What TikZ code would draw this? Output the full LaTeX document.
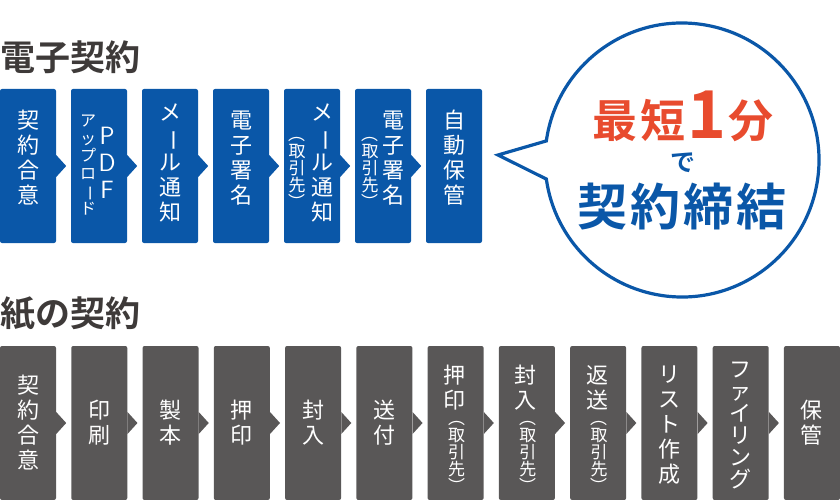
\documentclass[tikz,border=0pt]{standalone}
\usepackage{fontspec}
\usetikzlibrary{calc}
\newfontfamily\cjk{Noto Sans CJK JP}[BoldFont={Noto Sans CJK JP Bold}]
\definecolor{eblue}{HTML}{0A57A8}
\definecolor{pgray}{HTML}{595757}
\definecolor{tgray}{HTML}{3E3A39}
\definecolor{ered}{HTML}{E84B2E}
\newcommand\VB{\rotatebox[origin=c]{-90}{ー}}
\newcommand\LP{\rotatebox[origin=c]{-90}{（}}
\newcommand\RP{\rotatebox[origin=c]{-90}{）}}
\tikzset{
 stepbox/.style={rectangle,rounded corners=2pt,minimum width=56pt,minimum height=154pt,inner sep=0pt,fill=#1},
 big/.style={white,align=center,inner sep=0pt,font=\cjk\fontsize{22}{25}\selectfont},
 small/.style={white,align=center,inner sep=0pt,font=\cjk\fontsize{17}{17}\selectfont},
 title/.style={anchor=west,tgray,inner sep=0pt,font=\cjk\bfseries\fontsize{35}{36}\selectfont},
}
\newcommand\tip[2]{\fill[#2] ([yshift=11pt]#1.east) -- ++(10pt,-11pt) -- ++(-10pt,-11pt) -- cycle;}
\begin{document}
\begin{tikzpicture}[x=1pt,y=-1pt]
\useasboundingbox (0,0) rectangle (840,500);
\node[title] (t1) at (0,57) {電子契約};
\node[title] (t2) at (0,314) {紙の契約};
% top row
\foreach \i in {0,...,6} {\node[stepbox=eblue] (a\i) at (28+71*\i,166) {};}
\foreach \i in {0,...,5} {\tip{a\i}{eblue}}
\node[big] at (28,158) {契\\約\\合\\意};
\node[big,font=\sffamily\fontsize{25}{27}\selectfont] at (107,163) {P\\D\\F};
\node[small,font=\cjk\fontsize{16}{17.5}\selectfont] at (88,165) {ア\\ッ\\プ\\ロ\\\VB\\ド};
\node[big] at (170,163) {メ\\\VB\\ル\\通\\知};
\node[big] at (241,158) {電\\子\\署\\名};
\node[big] at (322,163) {メ\\\VB\\ル\\通\\知};
\node[small] at (297,168) {\LP\\取\\引\\先\\\RP};
\node[big] at (393,158) {電\\子\\署\\名};
\node[small] at (370,168) {\LP\\取\\引\\先\\\RP};
\node[big] at (454,158) {自\\動\\保\\管};
% bottom row
\foreach \i in {0,...,11} {\node[stepbox=pgray] (b\i) at (28+71.27*\i,423) {};}
\foreach \i in {0,...,10} {\tip{b\i}{pgray}}
\node[big] at (b0) {契\\約\\合\\意};
\node[big] at (b1) {印\\刷};
\node[big] at (b2) {製\\本};
\node[big] at (b3) {押\\印};
\node[big] at (b4) {封\\入};
\node[big] at (b5) {送\\付};
\node[big] at ([xshift=-1pt,yshift=35pt]b6.center) {押\\印};
\node[small] at ([xshift=1pt,yshift=-29pt]b6.center) {\LP\\取\\引\\先\\\RP};
\node[big] at ([xshift=-1pt,yshift=35pt]b7.center) {封\\入};
\node[small] at ([xshift=1pt,yshift=-29pt]b7.center) {\LP\\取\\引\\先\\\RP};
\node[big] at ([xshift=-1pt,yshift=35pt]b8.center) {返\\送};
\node[small] at ([xshift=1pt,yshift=-29pt]b8.center) {\LP\\取\\引\\先\\\RP};
\node[big] at ([yshift=-2pt]b9.center) {リ\\ス\\ト\\作\\成};
\node[big,font=\cjk\fontsize{22}{22}\selectfont] at ([yshift=-2pt]b10.center) {フ\\ァ\\イ\\リ\\ン\\グ};
\node[big] at (b11) {保\\管};
% bubble
\coordinate (bc) at (682,160);
\coordinate (bp) at (498,155);
\draw[eblue,line width=3.2pt,fill=white,line join=miter]
  ($(bc)+(188:137)$) arc[start angle=188,end angle=532,radius=137] -- (bp) -- cycle;
\node[ered,inner sep=0pt,font=\cjk\bfseries\fontsize{45}{48}\selectfont] (m1) at (683,116)
  {最\kern3pt 短\kern2pt\raisebox{-1pt}{\fontsize{66}{66}\selectfont 1}\kern2pt 分};
\node[eblue,inner sep=0pt,font=\cjk\bfseries\fontsize{25}{26}\selectfont] (m2) at (683,163) {で};
\node[eblue,inner sep=0pt,font=\cjk\bfseries\fontsize{50}{52}\selectfont] (m3) at (682,207) {契\kern3pt 約\kern3pt 締\kern3pt 結};
\end{tikzpicture}
\end{document}
